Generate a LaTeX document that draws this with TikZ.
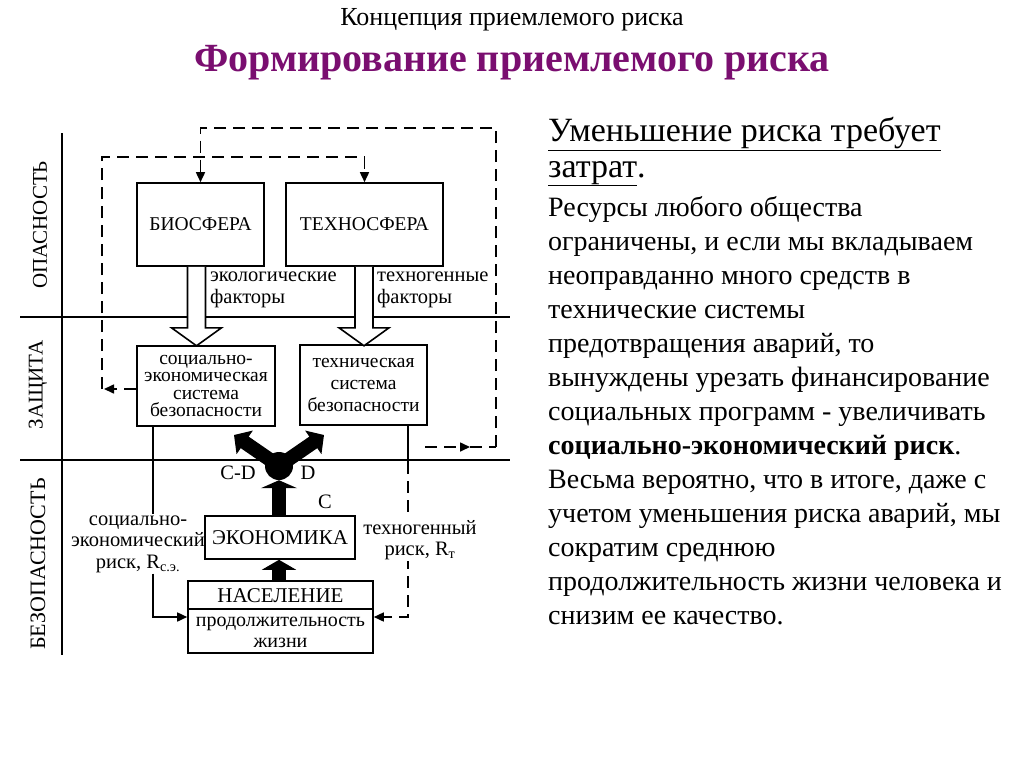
\documentclass[tikz,border=0pt]{standalone}
\usepackage{fontspec}
\setmainfont{Liberation Serif}
\usepackage{xcolor}
\usetikzlibrary{positioning,shapes,arrows.meta}
\definecolor{titlepurple}{RGB}{122,14,112}

\begin{document}
\begin{tikzpicture}[x=1pt,y=-1pt,
  box/.style={draw,shape=rectangle,line width=1.6pt,fill=white,inner sep=0pt,align=center,font=\fontsize{19.5}{17.5}\selectfont},
  lbl/.style={inner sep=1pt,align=center,font=\fontsize{20.5}{21.5}\selectfont},
  zone/.style={rotate=90,font=\fontsize{21}{24}\selectfont},
  zoneline/.style={line width=1.6pt},
  solidline/.style={line width=1.6pt},
  dashline/.style={line width=1.6pt,dash pattern=on 12pt off 7pt},
  arr/.style={-{Triangle[length=10pt 0,width=9pt 0]}},
  hollow/.style={draw,line width=1.6pt,fill=white},
  fat/.style={line width=14pt},
  head/.style={anchor=base west,inner sep=0pt,font=\fontsize{34}{40}\selectfont},
  body/.style={anchor=base west,inner sep=0pt,font=\fontsize{28}{34}\selectfont}]
\fill[white] (0,0) rectangle (1024,768);
\useasboundingbox (0,0) rectangle (1024,768);

% titles
\draw node (title) at (512,20) [font=\fontsize{26}{30}\selectfont]{Концепция приемлемого риска};
\draw node (subtitle) at (512,63) [text=titlepurple,font=\fontsize{40}{44}\selectfont\bfseries]{Формирование приемлемого риска};

% zones
\draw[zoneline] (62,133) -- (62,655);
\draw[zoneline] (20,317) -- (510,317)
  (20,460) -- (510,460);
\draw node (danger) at (40,225) [zone]{ОПАСНОСТЬ};
\draw node (protect) at (38,385) [zone]{ЗАЩИТА};
\draw node (safety) at (38,564) [zone,font=\fontsize{22}{24}\selectfont]{БЕЗОПАСНОСТЬ};

% dashed loops
\coordinate (xs) at (153,0);
\coordinate (xt) at (408,0);
\coordinate (lcorner) at (102,389);
\coordinate (fb1) at (425,447);
\coordinate (fb2) at (470,447);
\coordinate (fb3) at (496,447);
\coordinate (tbreak) at (408,462);

\draw node (bio) at (200.5,224.5) [box,minimum width=127,minimum height=83]{БИОСФЕРА};
\draw node (techno) at (364.5,224.5) [box,minimum width=157,minimum height=83]{ТЕХНОСФЕРА};
\draw node (socsys) at (206,386) [box,minimum width=138,minimum height=80]{социально-\\экономическая\\система\\безопасности};
\draw node (techsys) at (363.5,385) [box,minimum width=127,minimum height=80,font=\fontsize{19.5}{22}\selectfont]{техническая\\система\\безопасности};
\draw node (econ) at (280,537.5) [box,minimum width=150,minimum height=43,font=\fontsize{21}{24}\selectfont]{ЭКОНОМИКА};
\draw node (people) at (280.5,617) [box,minimum width=185,minimum height=72]{};
\draw[solidline] ([yshift=-29pt]people.north west) -- ([yshift=-29pt]people.north east);
\draw node (pname) at (280.5,596) [font=\fontsize{21}{24}\selectfont]{НАСЕЛЕНИЕ};
\draw node (plife) at (280.5,632) [lbl,font=\fontsize{20}{21}\selectfont]{продолжительность\\жизни};

\draw[dashline,arr] (fb3) -- (496,128) -| (bio.north);
\draw[dashline,arr] (fb1) -- (fb2);
\draw[dashline] (fb2) -- (fb3);
\draw[dashline,arr] ([yshift=-3pt]socsys.west) -- ([xshift=2pt]lcorner);
\draw[dashline,arr] (lcorner) -- (102,157) -| (techno.north);

% factors
\draw[hollow] (bio.south) ++(-13,0) -- ++(0,61) -- ++(-16,0) -- ++(25,18) -- ++(25,-18) -- ++(-16,0) -- ++(0,-61);
\draw[hollow] (techno.south) ++(-9.5,0) -- ++(0,61) -- ++(-16,0) -- ++(25,18) -- ++(25,-18) -- ++(-16,0) -- ++(0,-61);
\draw node (ecof) at (209,290) [lbl,anchor=west,align=left]{экологические\\факторы};
\draw node (techf) at (376,290) [lbl,anchor=west,align=left]{техногенные\\факторы};

% risks
\draw node (serisk) at (138,544) [lbl]{социально-\\экономический\\риск, R\textsubscript{с.э.}};
\draw[solidline] (socsys.south -| xs) -- (xs |- serisk.north);
\draw[solidline,arr] (xs |- serisk.south) |- (people.west);
\draw[solidline] (techsys.south -| xt) -- (tbreak);
\draw[dashline,arr] (tbreak) |- (people.east);
\draw node (trisk) at (420,540) [lbl,fill=white]{техногенный\\риск, R\textsubscript{т}};

% economy split
\draw node (hub) at (279,466) [circle,fill=black,minimum size=28,inner sep=0pt]{};
\coordinate (cd) at (234,435);
\coordinate (dd) at (324,435);
\draw[fat,-{Triangle[length=10pt 0,width=34pt 0]}] (people.north -| hub) -- (econ.south -| hub);
\draw[fat,-{Triangle[length=8pt 0,width=36pt 0]}] (econ.north -| hub) -- (hub.south);
\draw[fat,-{Triangle[length=13pt 0,width=28pt 0]}] (hub.center) -- (cd);
\draw[fat,-{Triangle[length=13pt 0,width=28pt 0]}] (hub.center) -- (dd);
\draw node (cdl) at (238,473) [lbl]{C-D};
\draw node (dl) at (308,473) [lbl]{D};
\draw node (cl) at (325,502) [lbl]{C};

% text
\draw node (h1) at (548,141) [head]{\underline{Уменьшение риска требует}};
\draw node (h2) at (548,177) [head]{\underline{затрат}.};
\foreach \bodyline [count=\i from 0] in {{Ресурсы любого общества},{ограничены, и если мы вкладываем},
  {неоправданно много средств в},{технические системы},{предотвращения аварий, то},
  {вынуждены урезать финансирование},{социальных программ - увеличивать},
  {\textbf{социально-экономический риск}.},{Весьма вероятно, что в итоге, даже с},
  {учетом уменьшения риска аварий, мы},{сократим среднюю},
  {продолжительность жизни человека и},{снизим ее качество.}}
  \draw node (b\i) at (548,216+34*\i) [body]{\bodyline};
\end{tikzpicture}
\end{document}
